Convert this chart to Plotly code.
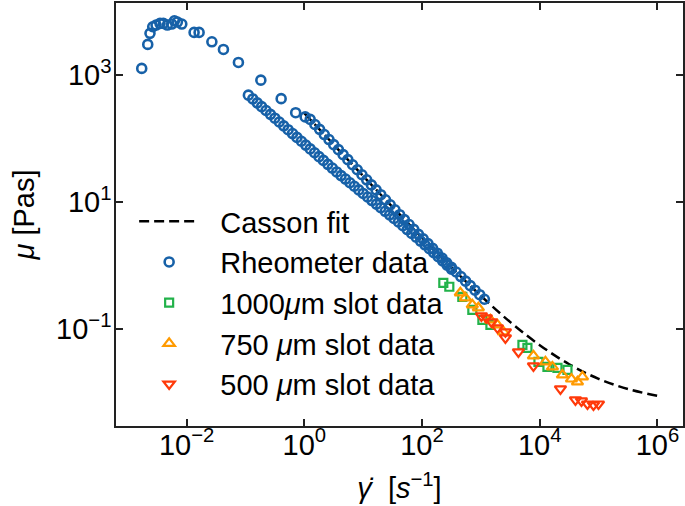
import plotly.graph_objects as go

# ---------------- data ----------------
casson_x = [1.0, 3.162, 10.0, 31.62, 100.0, 316.2, 1000.0, 3162.0, 10000.0,
            31620.0, 100000.0, 316200.0, 1000000.0]
casson_y = [252.6, 80.5, 25.8, 8.36, 2.76, 0.937, 0.335, 0.129, 0.0560,
            0.0280, 0.0165, 0.0114, 0.0089]

# rheometer: start-up / peak and upper branch
rheo_peak_x = [0.00173, 0.00219, 0.00239, 0.00266, 0.00303, 0.00354, 0.00403,
               0.00471, 0.00560, 0.00621, 0.00698, 0.00829, 0.01342, 0.01633,
               0.0269, 0.0423, 0.0760, 0.1828, 0.4046, 0.714, 1.035]
rheo_peak_y = [1276, 3048, 4550, 5780, 6150, 6530, 6530, 6150, 6370, 7180,
               6850, 6370, 4710, 4710, 3350, 2540, 1585, 834, 426, 256, 220]

rheo_upper_x = [1.259, 1.514, 1.820, 2.188, 2.630, 3.162, 3.802, 4.571, 5.495,
                6.607, 7.943, 9.550, 11.48, 13.80, 16.60, 19.95, 23.99, 28.84,
                34.67, 41.69, 50.12, 60.26, 72.44, 87.10, 104.7, 125.9, 151.4,
                182.0, 218.8, 263.0, 316.2, 380.2, 457.1, 549.5, 660.7, 794.3,
                955.0, 1148.0]
rheo_upper_y = [201, 167, 140, 116, 96.8, 80.5, 67.1, 56.0, 46.7, 38.8, 32.4,
                27.0, 22.5, 18.7, 15.6, 13.1, 10.9, 9.08, 7.59, 6.34, 5.30,
                4.44, 3.72, 3.11, 2.64, 2.22, 1.87, 1.57, 1.32, 1.11, 0.938,
                0.794, 0.673, 0.570, 0.484, 0.411, 0.349, 0.296]

rheo_lower_x = [0.1122, 0.1334, 0.1585, 0.1884, 0.2239, 0.2661, 0.3162, 0.3758,
                0.4467, 0.5309, 0.6310, 0.7499, 0.8913, 1.059, 1.259, 1.496,
                1.778, 2.113, 2.512, 2.985, 3.548, 4.217, 5.012, 5.957, 7.079,
                8.414, 10.0, 11.89, 14.13, 16.79, 19.95, 23.71, 28.18, 33.50,
                39.81, 47.32, 56.23, 66.83, 79.43, 94.41, 112.2, 133.4, 158.5,
                188.4, 223.9, 266.1, 316.2]
rheo_lower_y = [484.2, 421.7, 366.4, 319.2, 277.3, 241.5, 209.9, 182.8, 158.9,
                138.3, 120.2, 104.7, 91.0, 79.2, 68.9, 60.0, 52.1, 45.4, 39.4,
                34.4, 29.9, 26.2, 23.1, 20.2, 17.8, 15.6, 13.7, 12.05, 10.59,
                9.31, 8.18, 7.18, 6.31, 5.55, 4.88, 4.25, 3.70, 3.22, 2.81,
                2.44, 2.13, 1.85, 1.60, 1.38, 1.19, 1.02, 0.881]

slot1000_x = [230, 291, 484, 716, 1061, 1452, 5082, 6180, 9510, 13520, 20000, 29580]
slot1000_y = [0.537, 0.465, 0.323, 0.201, 0.140, 0.117, 0.0565, 0.0507, 0.0305,
              0.0254, 0.0245, 0.0228]

slot750_x = [448, 544, 716, 906, 1452, 1910, 2416, 7816, 12500, 16440, 24320,
             34600, 43750, 53200]
slot750_y = [0.374, 0.312, 0.242, 0.217, 0.140, 0.117, 0.0906, 0.0379, 0.0305,
             0.0254, 0.0190, 0.0164, 0.0148, 0.0177]

slot500_x = [1021, 1241, 1510, 1910, 2612, 2612, 4345, 7816, 22490, 40460,
             51170, 64710, 81850, 99540]
slot500_y = [0.162, 0.151, 0.130, 0.105, 0.0908, 0.0730, 0.0439, 0.0264, 0.01146,
             0.00768, 0.00740, 0.00663, 0.00640, 0.00663]

x_tickvals = [1e-2, 1e0, 1e2, 1e4, 1e6]
x_ticktext = ["10<sup>\u22122</sup>", "10<sup>0</sup>", "10<sup>2</sup>",
              "10<sup>4</sup>", "10<sup>6</sup>"]
y_tickvals = [1e-1, 1e1, 1e3]
y_ticktext = ["10<sup>\u22121</sup>", "10<sup>1</sup>", "10<sup>3</sup>"]

# ---------------- styling ----------------
FONT = "Liberation Sans, Arial, sans-serif"
FS = 29
BLUE = "#1761a8"
GREEN = "#22b24a"
ORANGE = "#ff9a00"
RED = "#ff3a0a"
PAD = "\u00a0\u00a0"

rheo_x = rheo_peak_x + rheo_upper_x + rheo_lower_x
rheo_y = rheo_peak_y + rheo_upper_y + rheo_lower_y

fig = go.Figure()
fig.add_trace(go.Scatter(x=casson_x, y=casson_y, mode="lines", name=PAD + "Casson fit",
                         line=dict(color="black", width=2.5, dash="10px,5px", shape="spline")))
fig.add_trace(go.Scatter(x=rheo_x, y=rheo_y, mode="markers", name=PAD + "Rheometer data",
                         marker=dict(symbol="circle-open", size=9, color=BLUE,
                                     line=dict(width=2.6, color=BLUE))))
fig.add_trace(go.Scatter(x=slot1000_x, y=slot1000_y, mode="markers",
                         name=PAD + "1000<i>\u03bc</i>m slot data",
                         marker=dict(symbol="square-open", size=8, color=GREEN,
                                     line=dict(width=2.2, color=GREEN))))
fig.add_trace(go.Scatter(x=slot750_x, y=slot750_y, mode="markers",
                         name=PAD + "750 <i>\u03bc</i>m slot data",
                         marker=dict(symbol="triangle-up-open", size=10, color=ORANGE,
                                     line=dict(width=2.2, color=ORANGE))))
fig.add_trace(go.Scatter(x=slot500_x, y=slot500_y, mode="markers",
                         name=PAD + "500 <i>\u03bc</i>m slot data",
                         marker=dict(symbol="triangle-down-open", size=10, color=RED,
                                     line=dict(width=2.2, color=RED))))

axis_common = dict(type="log", showline=True, linecolor="#222222", linewidth=1.5,
                   mirror="ticks", ticks="inside", ticklen=7, tickwidth=1.5,
                   tickcolor="#222222", showgrid=False, zeroline=False,
                   automargin=False,
                   tickfont=dict(family=FONT, size=FS, color="black"))

fig.update_xaxes(**axis_common, range=[-3.199, 6.434], tickvals=x_tickvals,
                 ticktext=x_ticktext, ticklabelstandoff=-8,
                 title=dict(text="<i>\u03b3\u0307</i>  [<i>s</i><sup>\u22121</sup>]",
                            font=dict(family=FONT, size=FS, color="black"), standoff=18))
fig.update_yaxes(**axis_common, range=[-2.525, 4.136], tickvals=y_tickvals,
                 ticktext=y_ticktext, ticklabelstandoff=-3,
                 title=dict(text="<i>\u03bc</i> [Pas]",
                            font=dict(family=FONT, size=FS, color="black"), standoff=13))

fig.update_layout(
    width=685, height=506,
    margin=dict(l=116, r=2, t=3, b=80),
    paper_bgcolor="white", plot_bgcolor="white",
    font=dict(family=FONT, size=FS, color="black"),
    showlegend=True,
    legend=dict(x=0.032, y=0.544, xanchor="left", yanchor="top",
                bgcolor="rgba(0,0,0,0)", borderwidth=0,
                font=dict(family=FONT, size=FS, color="black"),
                itemwidth=60),
)

fig.write_html("out.html", config={"displayModeBar": False})

# remove the default page margin so the figure sits at the window origin
with open("out.html", "r", encoding="utf-8") as f:
    html = f.read()
html = html.replace("<head>", "<head><style>html,body{margin:0;padding:0;overflow:hidden;}</style>", 1)
with open("out.html", "w", encoding="utf-8") as f:
    f.write(html)
